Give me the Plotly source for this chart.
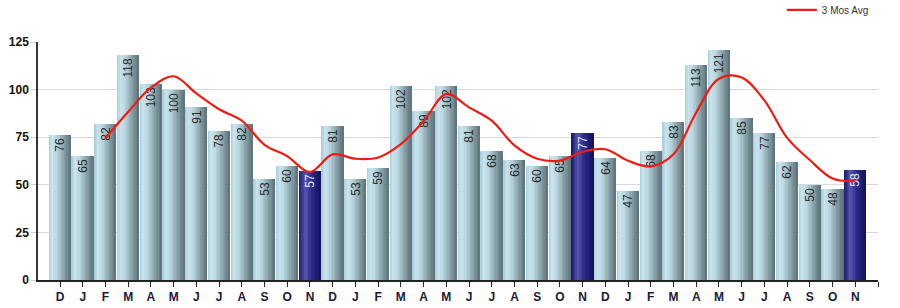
import plotly.graph_objects as go

months = ["D", "J", "F", "M", "A", "M", "J", "J", "A", "S", "O", "N",
          "D", "J", "F", "M", "A", "M", "J", "J", "A", "S", "O", "N",
          "D", "J", "F", "M", "A", "M", "J", "J", "A", "S", "O", "N"]
year_marks = {0: "10", 1: "11", 13: "12", 25: "13"}
values = [76, 65, 82, 118, 103, 100, 91, 78, 82, 53, 60, 57,
          81, 53, 59, 102, 89, 102, 81, 68, 63, 60, 65, 77,
          64, 47, 68, 83, 113, 121, 85, 77, 62, 50, 48, 58]
avg3 = [None, None, 74.33, 88.33, 101.0, 107.0, 98.0, 89.67, 83.67, 71.0, 65.0, 56.67,
        66.0, 63.67, 64.33, 71.33, 83.33, 97.67, 90.67, 83.67, 70.67, 63.67, 62.67, 67.33,
        68.67, 62.67, 59.67, 66.0, 88.0, 105.67, 106.33, 94.33, 74.67, 63.0, 53.33, 52.0]
highlight = [11, 23, 35]

x = list(range(len(values)))


def hex2rgb(h):
    h = h.lstrip("#")
    return tuple(int(h[i:i + 2], 16) for i in (0, 2, 4))


def grad(stops, t):
    for (t0, c0), (t1, c1) in zip(stops, stops[1:]):
        if t0 <= t <= t1:
            f = (t - t0) / (t1 - t0) if t1 > t0 else 0
            a, b = hex2rgb(c0), hex2rgb(c1)
            return "rgb(%d,%d,%d)" % tuple(round(a[k] + (b[k] - a[k]) * f) for k in range(3))
    return stops[-1][1]


blue_stops = [(0.0, "#a8cad6"), (0.15, "#c6e3ee"), (0.35, "#bcd9e3"), (1.0, "#5b7177")]
navy_stops = [(0.0, "#17176a"), (0.3, "#5656b0"), (0.6, "#2a2a88"), (1.0, "#12125a")]

fig = go.Figure()
W = 0.95
N = 16
sw = W / N
for i in range(N):
    t = (i + 0.5) / N
    cols = [grad(navy_stops, t) if k in highlight else grad(blue_stops, t) for k in x]
    fig.add_trace(go.Bar(
        x=x, y=values, width=sw * 1.08, offset=-W / 2 + i * sw,
        marker=dict(color=cols, line=dict(width=0)),
        showlegend=False, hoverinfo="skip"))

text_cols = ["#e6e6ff" if k in highlight else "#2a2a2a" for k in x]
fig.add_trace(go.Bar(
    x=x, y=values, width=W, marker=dict(color="rgba(0,0,0,0)", line=dict(width=0)),
    text=[str(v) for v in values], textposition="inside", insidetextanchor="end",
    textangle=-90, insidetextfont=dict(family="Arial, Liberation Sans", size=12, color=text_cols),
    showlegend=False, hoverinfo="skip", cliponaxis=False))

fig.add_trace(go.Scatter(
    x=x, y=avg3, mode="lines", name="3 Mos Avg",
    line=dict(color="#ee1c12", width=2.2, shape="spline", smoothing=1.0),
    hoverinfo="skip"))

ticktext = [m + ("<br>" + year_marks[k] if k in year_marks else "") for k, m in enumerate(months)]
fig.update_layout(
    width=900, height=308,
    margin=dict(l=38, r=22, t=42, b=28, autoexpand=False),
    paper_bgcolor="white", plot_bgcolor="white",
    barmode="overlay", bargap=0,
    font=dict(family="Arial, Liberation Sans", size=12, color="#222"),
    legend=dict(x=0.995, xanchor="right", y=1.135, yanchor="middle",
                font=dict(size=10, color="#333"), bgcolor="rgba(0,0,0,0)",
                itemwidth=30),
    showlegend=True,
    xaxis=dict(range=[-0.97, 36.0], tickmode="array", automargin=False,
               tickvals=x + [36.0], ticktext=ticktext + [""],
               showgrid=False, zeroline=False,
               showline=True, linecolor="#222", linewidth=1.5,
               ticks="outside", ticklen=5, tickcolor="#222",
               tickfont=dict(family="Arial, Liberation Sans", size=12, color="#1a1a3a", weight="bold"),
               tickangle=0),
    yaxis=dict(range=[0, 125], tickmode="array", tickvals=[0, 25, 50, 75, 100, 125], automargin=False,
               showgrid=True, gridcolor="#d9d9d9", gridwidth=1, zeroline=False,
               showline=True, linecolor="#333", linewidth=1.5,
               ticks="outside", ticklen=5, tickcolor="#d0d0d0",
               tickfont=dict(family="Arial, Liberation Sans", size=12, color="#111", weight="bold")),
)

fig.write_html("out.html")
